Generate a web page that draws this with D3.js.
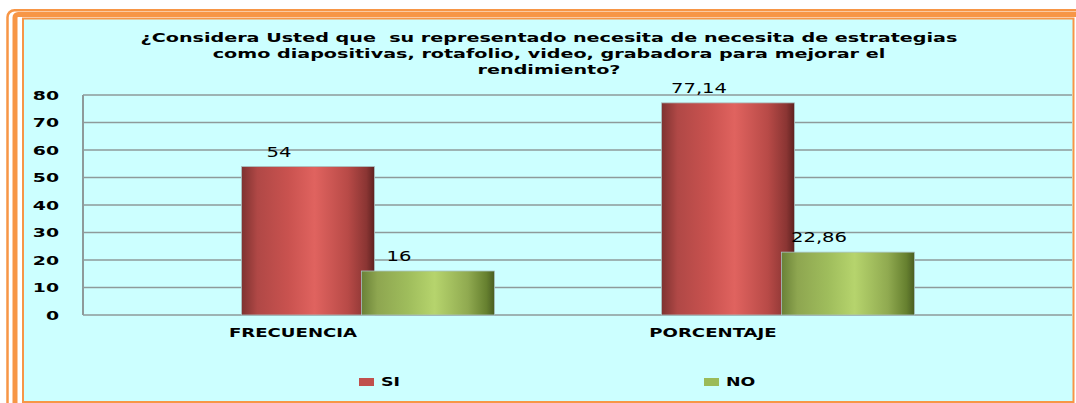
<!DOCTYPE html>
<html>
<head>
<meta charset="utf-8">
<script src="https://cdn.jsdelivr.net/npm/d3@7"></script>
<style>
  html, body { margin: 0; padding: 0; background: #ffffff; }
  svg { display: block; }
  text { font-family: "DejaVu Sans", Verdana, sans-serif; }
</style>
</head>
<body>
<div id="chart"></div>
<script>
// chart data
const categories = ['FRECUENCIA', 'PORCENTAJE'];
const seriesNames = ['SI', 'NO'];
const siValues = [54, 77.14];
const noValues = [16, 22.86];
const yTicks = [0, 10, 20, 30, 40, 50, 60, 70, 80];
const titleLines = [
    '¿Considera Usted que  su representado necesita de necesita de estrategias',
    'como diapositivas, rotafolio, video, grabadora para mejorar el',
    'rendimiento?'
];

const width = 1076;
const height = 403;
const orange = '#f79646';
const SX = 1.45; // the original picture is stretched sideways

const svg = d3.select('#chart')
    .append('svg')
    .attr('width', width)
    .attr('height', height);

const defs = svg.append('defs');

function barGradient(id, stops) {
    const g = defs.append('linearGradient')
        .attr('id', id)
        .attr('x1', '0%').attr('x2', '100%')
        .attr('y1', '0%').attr('y2', '0%');
    stops.forEach(s => {
        g.append('stop').attr('offset', s[0]).attr('stop-color', s[1]);
    });
}

barGradient('gradSi', [
    ['0%', '#7e3230'], ['12%', '#b04846'], ['35%', '#c9524f'],
    ['55%', '#e0635f'], ['80%', '#b84a47'], ['94%', '#8a3533'], ['100%', '#5e2220']
]);
barGradient('gradNo', [
    ['0%', '#6a8137'], ['12%', '#8ea650'], ['35%', '#9fbd5c'],
    ['55%', '#b6d46d'], ['80%', '#90aa50'], ['94%', '#66802f'], ['100%', '#4a5e22']
]);

// frame stripes
svg.append('rect')
    .attr('x', 7.5).attr('y', 10.2)
    .attr('width', 1100).attr('height', 420)
    .attr('rx', 7)
    .attr('fill', 'none')
    .attr('stroke', orange)
    .attr('stroke-width', 2.5);
svg.append('rect')
    .attr('x', 15).attr('y', 14.5)
    .attr('width', 1100).attr('height', 420)
    .attr('rx', 3)
    .attr('fill', 'none')
    .attr('stroke', orange)
    .attr('stroke-width', 5);
svg.append('line')
    .attr('x1', 30).attr('x2', width)
    .attr('y1', 12.5).attr('y2', 12.5)
    .attr('stroke', orange)
    .attr('stroke-width', 1.2);

// chart area
svg.append('rect')
    .attr('x', 23).attr('y', 18.5)
    .attr('width', 1050.5).attr('height', 383.5)
    .attr('fill', '#ccffff')
    .attr('stroke', orange)
    .attr('stroke-width', 2);

function stretched(parent, x, y, txt, anchor, size, weight, sx = SX) {
    return parent.append('text')
        .attr('transform', `translate(${x},${y}) scale(${sx},1)`)
        .attr('text-anchor', anchor)
        .attr('font-size', size)
        .attr('font-weight', weight)
        .attr('fill', '#000')
        .style('white-space', 'pre')
        .text(txt);
}

// title: one common stretch so the first line spans its width in the original
const titleCx = 549;
const titleY = [42, 57.5, 73.5];
const titleSize = 12.5;
const probe = svg.append('text')
    .attr('font-size', titleSize)
    .attr('font-weight', 'bold')
    .style('white-space', 'pre')
    .text(titleLines[0]);
const titleSx = 818 / probe.node().getComputedTextLength();
probe.remove();
titleLines.forEach((line, i) => {
    stretched(svg, titleCx, titleY[i], line, 'middle', titleSize, 'bold', titleSx);
});

// scales
const plotLeft = 83;
const plotRight = 1072;
const y = d3.scaleLinear().domain([0, 80]).range([315, 95]);
const x = d3.scaleBand().domain(categories).range([plotLeft, 923]);
const depthShift = 75;  // bars sit back from the label like the 3D original
const barW = 133;
const overlap = 13;

// gridlines
const grid = svg.append('g');
yTicks.forEach(t => {
    grid.append('line')
        .attr('x1', plotLeft).attr('x2', plotRight)
        .attr('y1', y(t)).attr('y2', y(t))
        .attr('stroke', '#8e9a9a')
        .attr('stroke-width', 1.5);
});
grid.append('line')
    .attr('x1', plotLeft).attr('x2', plotLeft)
    .attr('y1', y(80)).attr('y2', y(0))
    .attr('stroke', '#8e9a9a')
    .attr('stroke-width', 2);

// y labels
yTicks.forEach(t => {
    stretched(svg, 59, y(t) + 4.8, t, 'end', 13, 'bold');
});

// bars
const series = [
    { name: seriesNames[0], values: siValues, fill: 'url(#gradSi)', dx: -barW + overlap / 2 },
    { name: seriesNames[1], values: noValues, fill: 'url(#gradNo)', dx: -overlap / 2 }
];
const fmt = v => String(v).replace('.', ',');

series.forEach(s => {
    categories.forEach((c, i) => {
        const cx = x(c) + x.bandwidth() / 2 + depthShift;
        const v = s.values[i];
        svg.append('rect')
            .attr('x', cx + s.dx)
            .attr('y', y(v))
            .attr('width', barW)
            .attr('height', y(0) - y(v))
            .attr('fill', s.fill)
            .attr('stroke', '#a9c4c4')
            .attr('stroke-width', 0.8);
    });
});

series.forEach(s => {
    categories.forEach((c, i) => {
        const cx = x(c) + x.bandwidth() / 2 + depthShift;
        const v = s.values[i];
        stretched(svg, cx + s.dx + barW / 2 - 29, y(v) - 10, fmt(v), 'middle', 13.5, 'normal');
    });
});

// category labels
categories.forEach(c => {
    stretched(svg, x(c) + x.bandwidth() / 2, 337, c, 'middle', 12.5, 'bold');
});

// legend
const legendX = [359, 704];
series.forEach((s, i) => {
    svg.append('rect')
        .attr('x', legendX[i]).attr('y', 378)
        .attr('width', 15).attr('height', 8)
        .attr('fill', i === 0 ? '#c0504d' : '#9bbb59');
    stretched(svg, legendX[i] + 22, 386, s.name, 'start', 12, 'bold');
});
</script>
</body>
</html>
